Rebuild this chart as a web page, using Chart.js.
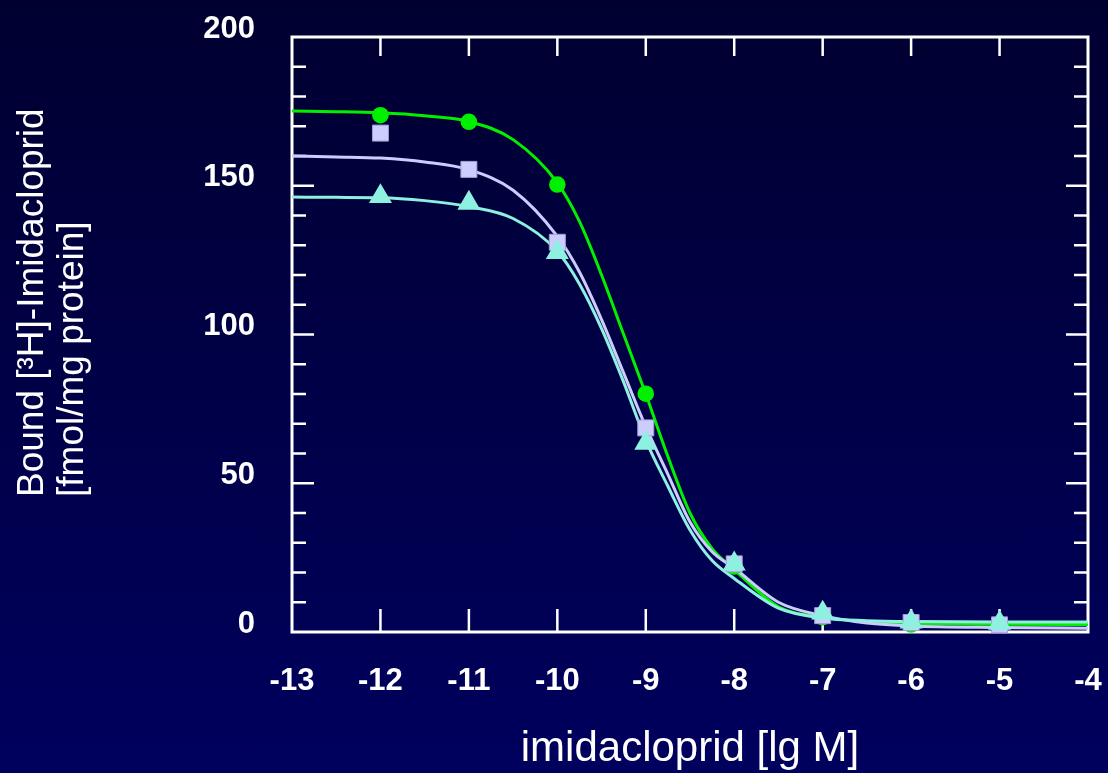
<!DOCTYPE html>
<html>
<head>
<meta charset="utf-8">
<script src="https://cdn.jsdelivr.net/npm/chart.js@4.4.1/dist/chart.umd.min.js"></script>
<style>
  html, body { margin: 0; padding: 0; }
  body { width: 1108px; height: 773px; background: linear-gradient(#000030, #00005e); overflow: hidden; }
  canvas { display: block; }
</style>
</head>
<body>
<canvas id="chart" width="1108" height="773"></canvas>
<script>
// measured points (x = lg M)
const concX = [-12, -11, -10, -9, -8, -7, -6, -5];
const circleVals = [173.7, 171.5, 150.4, 80.1, 22, 5, 2.5, 2.5];
const squareVals = [167.7, 155.5, 131, 68.6, 22.9, 5.5, 3.2, 2.4];
const triangleVals = [146.4, 144.2, 127.6, 63.5, 22.9, 6.4, 3.4, 3.0];

// fitted curves
const curveX = [-13, -12.5, -12, -11.5, -11, -10.5, -10, -9.75, -9.5, -9.25, -9, -8.75, -8.5, -8.25, -8, -7.5, -7, -6.5, -6, -5, -4];
const greenCurve = [175.1, 174.9, 174.5, 173.5, 171.6, 165.5, 151, 138, 120, 100, 80, 59, 40, 28, 21, 8.5, 5, 3.5, 2.9, 2.6, 2.5];
const lavenderCurve = [160, 159.7, 159.3, 158, 155.4, 148.5, 133, 121, 105, 87, 69, 53, 37, 27, 21.5, 10, 5.5, 3, 2, 1.5, 1.3];
const cyanCurve = [146.2, 146.1, 146, 145, 143, 139, 128, 117, 102, 84, 64.5, 49, 34.3, 24, 18, 8, 4.7, 3.8, 3.5, 3.4, 3.4];

const yTickLabels = [0, 50, 100, 150, 200];

const GREEN = '#00f000';
const LAVENDER = '#ccccff';
const CYAN = '#8ef0e0';
const FONT = "'Liberation Sans', Arial, sans-serif";

function pts(xs, ys) {
    return xs.map((x, i) => ({ x: x, y: ys[i] }));
}

function curve(ys, color) {
    return {
        data: pts(curveX, ys),
        showLine: true,
        borderColor: color,
        borderWidth: 3,
        pointRadius: 0,
        cubicInterpolationMode: 'monotone',
        order: 10
    };
}

function markers(ys, style, radius, color, border, order) {
    return {
        data: pts(concX, ys),
        showLine: false,
        pointStyle: style,
        pointRadius: radius,
        pointHoverRadius: radius,
        backgroundColor: color,
        borderColor: border,
        borderWidth: border === color ? 0 : 1,
        clip: false,
        order: order
    };
}

// box + inward ticks + rotated y title
const frame = {
    id: 'frame',
    beforeDatasetsDraw(chart) {
        const { ctx, chartArea: a, scales: { x, y } } = chart;
        ctx.save();
        ctx.strokeStyle = '#ffffff';
        ctx.lineWidth = 3;
        ctx.strokeRect(a.left, a.top, a.right - a.left, a.bottom - a.top);
        ctx.lineWidth = 2.5;
        ctx.beginPath();
        for (const t of y.ticks) {
            if (t.value <= 0 || t.value >= 200) continue;
            const py = y.getPixelForValue(t.value);
            const len = t.value % 50 === 0 ? 22 : 14;
            ctx.moveTo(a.left, py); ctx.lineTo(a.left + len, py);
            ctx.moveTo(a.right, py); ctx.lineTo(a.right - len, py);
        }
        for (const t of x.ticks) {
            if (t.value <= -13 || t.value >= -4) continue;
            const px = x.getPixelForValue(t.value);
            ctx.moveTo(px, a.top); ctx.lineTo(px, a.top + 19);
            ctx.moveTo(px, a.bottom); ctx.lineTo(px, a.bottom - 23);
        }
        ctx.stroke();

        ctx.translate(0, 497);
        ctx.rotate(-Math.PI / 2);
        ctx.fillStyle = '#ffffff';
        ctx.font = '37px ' + FONT;
        ctx.textAlign = 'left';
        ctx.textBaseline = 'middle';
        ctx.fillText('Bound [³H]-Imidacloprid', 0, 33);
        ctx.fillText('[fmol/mg protein]', 0, 73);
        ctx.restore();
    }
};

new Chart(document.getElementById('chart'), {
    type: 'scatter',
    data: {
        datasets: [
            markers(triangleVals, 'triangle', 13.3, CYAN, CYAN, 1),
            markers(squareVals, 'rect', 11.3, LAVENDER, '#a0a0d0', 2),
            markers(circleVals, 'circle', 8.3, GREEN, GREEN, 3),
            curve(cyanCurve, CYAN),
            curve(lavenderCurve, LAVENDER),
            curve(greenCurve, GREEN)
        ]
    },
    options: {
        responsive: false,
        animation: false,
        devicePixelRatio: 1,
        layout: { padding: { top: 37, right: 20, left: 0, bottom: 0 } },
        plugins: { legend: { display: false }, tooltip: { enabled: false } },
        scales: {
            x: {
                type: 'linear',
                min: -13,
                max: -4,
                grid: { display: false, drawTicks: false },
                border: { display: false },
                ticks: {
                    stepSize: 1,
                    autoSkip: false,
                    maxRotation: 0,
                    padding: 31,
                    color: '#ffffff',
                    font: { family: FONT, size: 31, weight: 'bold' }
                },
                title: {
                    display: true,
                    text: 'imidacloprid [lg M]',
                    color: '#ffffff',
                    font: { family: FONT, size: 42, lineHeight: 1.1 },
                    padding: 0
                },
                afterFit(scale) {
                    scale.height = 141;
                    scale.paddingLeft = 0;
                    scale.paddingRight = 0;
                }
            },
            y: {
                type: 'linear',
                min: 0,
                max: 200,
                grid: { display: false, drawTicks: false },
                border: { display: false },
                ticks: {
                    stepSize: 10,
                    autoSkip: false,
                    padding: 37,
                    labelOffset: -8,
                    color: '#ffffff',
                    font: { family: FONT, size: 31, weight: 'bold' },
                    callback: (v) => yTickLabels.includes(v) ? String(v) : ''
                },
                afterFit(scale) {
                    scale.width = 292;
                    scale.paddingTop = 0;
                    scale.paddingBottom = 0;
                }
            }
        }
    },
    plugins: [frame]
});
</script>
</body>
</html>
